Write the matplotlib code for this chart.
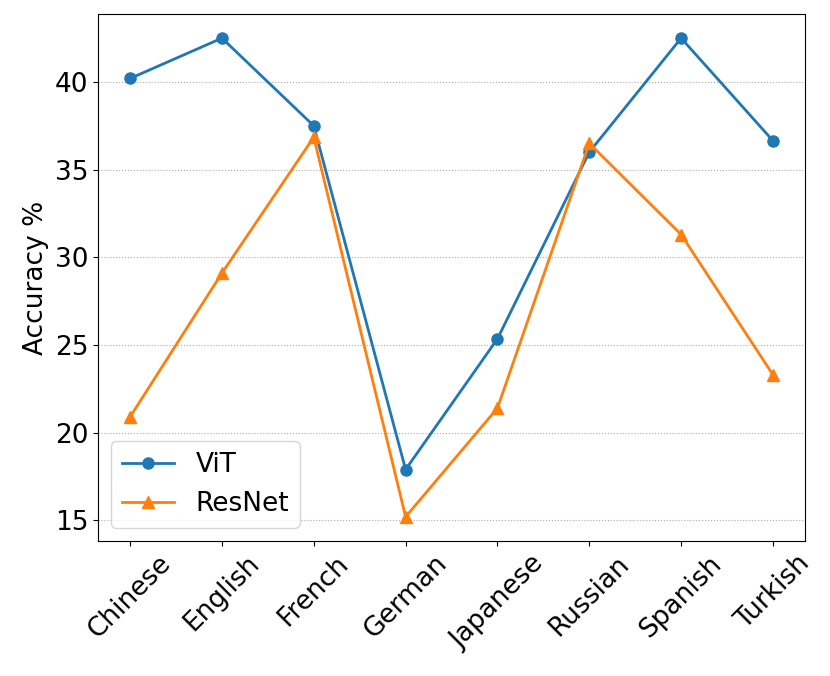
import matplotlib
matplotlib.use("Agg")
import matplotlib.pyplot as plt

languages = ['Chinese', 'English', 'French', 'German', 'Japanese', 'Russian', 'Spanish', 'Turkish']
vit_acc = [40.2, 42.5, 37.5, 17.9, 25.35, 36.0, 42.5, 36.65]
resnet_acc = [20.9, 29.1, 36.85, 15.2, 21.4, 36.5, 31.3, 23.3]

plt.rcParams['font.size'] = 19

fig, ax = plt.subplots(figsize=(8.3, 6.76), dpi=100)
ax.plot(languages, vit_acc, marker='o', markersize=8, linewidth=2, label='ViT')
ax.plot(languages, resnet_acc, marker='^', markersize=8, linewidth=2, label='ResNet')

ax.set_ylabel('Accuracy %')
ax.set_yticks([15, 20, 25, 30, 35, 40])
ax.yaxis.grid(True, linestyle=':', color='#aaaaaa')
ax.set_axisbelow(True)
plt.xticks(rotation=45)
ax.legend(loc='lower left')

fig.subplots_adjust(left=0.118, right=0.97, top=0.979, bottom=0.2)
fig.savefig('out.png')
